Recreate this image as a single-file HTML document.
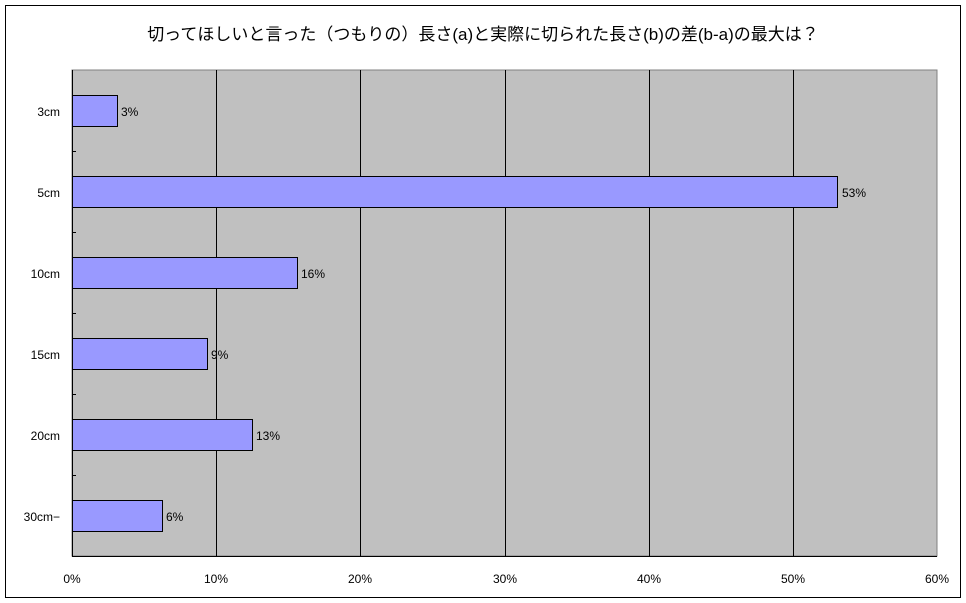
<!DOCTYPE html>
<html><head><meta charset="utf-8"><style>
html,body{margin:0;padding:0;background:#fff;}
svg{display:block;}
text{font-family:"Liberation Sans","Noto Sans CJK JP",sans-serif;fill:#000;}
</style></head><body>
<svg width="966" height="603" xmlns="http://www.w3.org/2000/svg">
<rect x="5.5" y="5.5" width="955" height="592" fill="#fff" stroke="#000" stroke-width="1"/>
<text x="483" y="40" font-size="17" text-anchor="middle">切ってほしいと言った（つもりの）長さ(a)と実際に切られた長さ(b)の差(b-a)の最大は？</text>
<rect x="72" y="70" width="865" height="486" fill="#c0c0c0" stroke="#808080"/>
<g stroke="#000" stroke-width="1">
<line x1="216.5" y1="70" x2="216.5" y2="556"/>
<line x1="360.5" y1="70" x2="360.5" y2="556"/>
<line x1="505.5" y1="70" x2="505.5" y2="556"/>
<line x1="649.5" y1="70" x2="649.5" y2="556"/>
<line x1="793.5" y1="70" x2="793.5" y2="556"/>
<line x1="72.5" y1="70" x2="72.5" y2="556"/>
<line x1="72" y1="556.5" x2="937" y2="556.5"/>
<line x1="72" y1="151.5" x2="76" y2="151.5"/>
<line x1="72" y1="232.5" x2="76" y2="232.5"/>
<line x1="72" y1="313.5" x2="76" y2="313.5"/>
<line x1="72" y1="394.5" x2="76" y2="394.5"/>
<line x1="72" y1="475.5" x2="76" y2="475.5"/>
</g>
<g fill="#9999ff" stroke="#000" stroke-width="1">
<rect x="72.5" y="95.5" width="45" height="31"/>
<rect x="72.5" y="176.5" width="765" height="31"/>
<rect x="72.5" y="257.5" width="225" height="31"/>
<rect x="72.5" y="338.5" width="135" height="31"/>
<rect x="72.5" y="419.5" width="180" height="31"/>
<rect x="72.5" y="500.5" width="90" height="31"/>
</g>
<g font-size="12">
<text x="121" y="116">3%</text>
<text x="842" y="197">53%</text>
<text x="301" y="278">16%</text>
<text x="211" y="359">9%</text>
<text x="256" y="440">13%</text>
<text x="166" y="521">6%</text>
<g text-anchor="end">
<text x="60" y="116">3cm</text>
<text x="60" y="197">5cm</text>
<text x="60" y="278">10cm</text>
<text x="60" y="359">15cm</text>
<text x="60" y="440">20cm</text>
<text x="60" y="521">30cm−</text>
</g>
<g text-anchor="middle">
<text x="72" y="583">0%</text>
<text x="216" y="583">10%</text>
<text x="360" y="583">20%</text>
<text x="505" y="583">30%</text>
<text x="649" y="583">40%</text>
<text x="793" y="583">50%</text>
<text x="937" y="583">60%</text>
</g>
</g>
</svg>
</body></html>
